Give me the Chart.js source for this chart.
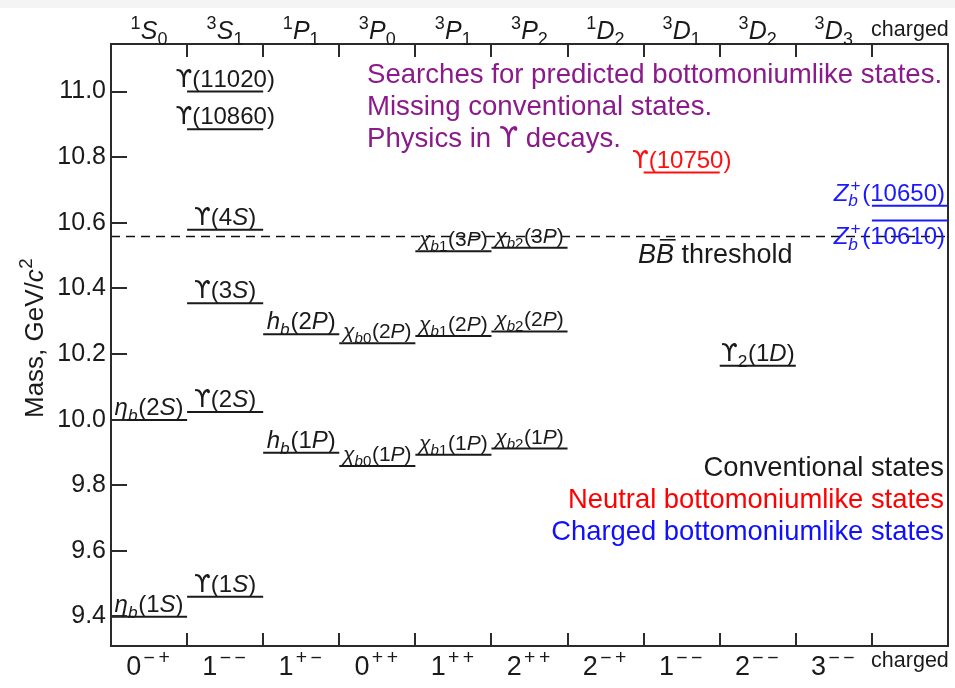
<!DOCTYPE html>
<html><head><meta charset="utf-8">
<script src="https://cdn.jsdelivr.net/npm/chart.js@4"></script>
<style>html,body{margin:0;padding:0;background:#fff;overflow:hidden}canvas{display:block}</style>
</head><body>
<canvas id="c" width="955" height="688"></canvas>
<script>
// ---------------- data ----------------
const topTerms = ['$^{1}S_{0}$','$^{3}S_{1}$','$^{1}P_{1}$','$^{3}P_{0}$','$^{3}P_{1}$','$^{3}P_{2}$','$^{1}D_{2}$','$^{3}D_{1}$','$^{3}D_{2}$','$^{3}D_{3}$','charged'];
const bottomJPC = ['$0^{−+}$','$1^{−−}$','$1^{+−}$','$0^{++}$','$1^{++}$','$2^{++}$','$2^{−+}$','$1^{−−}$','$2^{−−}$','$3^{−−}$','charged'];
const yTickValues = [9.4, 9.6, 9.8, 10.0, 10.2, 10.4, 10.6, 10.8, 11.0];
const yRange = [9.31, 11.145];
const columnCount = 11;

const stateLabels = [
  '$η_{b}(1S)$','$η_{b}(2S)$',
  '$ϒ(1S)$','$ϒ(2S)$','$ϒ(3S)$','$ϒ(4S)$','$ϒ(10860)$','$ϒ(11020)$',
  '$h_{b}(1P)$','$h_{b}(2P)$',
  '$χ_{b0}(1P)$','$χ_{b0}(2P)$',
  '$χ_{b1}(1P)$','$χ_{b1}(2P)$','$χ_{b1}(3P)$',
  '$χ_{b2}(1P)$','$χ_{b2}(2P)$','$χ_{b2}(3P)$',
  '$ϒ(10750)$','$ϒ_{2}(1D)$',
  '$Z_{b}^{+}(10610)$','$Z_{b}^{+}(10650)$'
];
const stateColumn = [0,0, 1,1,1,1,1,1, 2,2, 3,3, 4,4,4, 5,5,5, 7,8, 10,10];
const stateMass = [9.399,9.999, 9.460,10.023,10.355,10.579,10.885,11.000, 9.899,10.260,
                   9.859,10.233, 9.893,10.255,10.513, 9.912,10.269,10.524, 10.753,10.164, 10.607,10.652];
const stateKind = ['conv','conv','conv','conv','conv','conv','conv','conv','conv','conv',
                   'conv','conv','conv','conv','conv','conv','conv','conv','neutral','conv','charged','charged'];
const bbThreshold = 10.558;

const noteLines = ['Searches for predicted bottomoniumlike states.','Missing conventional states.','Physics in ϒ decays.'];
const legendLines = ['Conventional states','Neutral bottomoniumlike states','Charged bottomoniumlike states'];
const legendKinds = ['conv','neutral','charged'];

// ---------------- style ----------------
const FONT = '"Liberation Sans", Arial, sans-serif';
const GREEK_FONT = '"DejaVu Sans", sans-serif';
const kindColor = {conv:'#1a1a1a', neutral:'#ff1010', charged:'#1a1aff'};
const legendColor = {conv:'#1a1a1a', neutral:'#ff0000', charged:'#1010ff'};
const INK = '#1a1a1a';
const labelStyle = i => {
  const s = {size:24, place:'above', align:'center'};
  if (stateLabels[i].includes('χ')) s.size = 21;
  if (i === 20) { s.place = 'below'; s.align = 'right'; }
  if (i === 21) { s.align = 'right'; }
  return s;
};

// ---------------- rich text ----------------
function parseRich(s){
  const items=[]; let i=0, math=false;
  const readGroup=()=>{ if(s[i]==='{'){const j=s.indexOf('}',i);const g=[...s.slice(i+1,j)];i=j+1;return g;} const c=s[i];i++;return [c]; };
  while(i<s.length){
    const c=s[i];
    if(c==='$'){ math=!math; i++; continue; }
    if(c==='_'||c==='^'){
      i++; const g=readGroup(); const key=c==='_'?'sub':'sup';
      const last=items[items.length-1];
      if(last&&last.script&&!last[key]) last[key]=g;
      else items.push({script:true,[key]:g,math});
    } else if(c==='~'){ i++; items.push({ch:s[i],bar:true,math}); i++; }
    else { items.push({ch:c,math}); i++; }
  }
  return items;
}
function fontFor(ch,size,math){
  if(ch==='ϒ') return size+'px '+GREEK_FONT;
  const it = math && /[A-Za-zα-ω]/.test(ch);
  return (it?'italic ':'')+size+'px '+FONT;
}
function pad(ch,size){ return (ch==='+'||ch==='−') ? size*0.18 : 0; }
function adv(ctx,ch,size,math){ ctx.font=fontFor(ch,size,math); return ctx.measureText(ch).width + pad(ch,size); }
function widthOf(ctx,chars,size,math){ let w=0; for(const ch of chars) w+=adv(ctx,ch,size,math); return w; }
function putChars(ctx,chars,x,y,size,math){
  let px=x;
  for(const ch of chars){ ctx.font=fontFor(ch,size,math); ctx.fillText(ch,px+pad(ch,size)/2,y); px+=adv(ctx,ch,size,math); }
}
function drawRich(ctx,s,x,y,size,align,color){
  const items=parseRich(s); const ss=size*0.72;
  let total=0;
  const widths=items.map(it=>{
    let w;
    if(it.script) w=Math.max(it.sub?widthOf(ctx,it.sub,ss,it.math):0, it.sup?widthOf(ctx,it.sup,ss,it.math):0)+size*0.03;
    else w=widthOf(ctx,[it.ch],size,it.math);
    total+=w; return w;
  });
  let cx = align==='center'? x-total/2 : align==='right'? x-total : x;
  ctx.fillStyle=color; ctx.strokeStyle=color; ctx.textAlign='left'; ctx.textBaseline='alphabetic';
  items.forEach((it,k)=>{
    if(it.script){
      if(it.sub) putChars(ctx,it.sub,cx,y+size*0.24,ss,it.math);
      if(it.sup) putChars(ctx,it.sup,cx+size*0.02,y-size*0.42,ss,it.math);
    } else {
      putChars(ctx,[it.ch],cx,y,size,it.math);
      if(it.bar){ ctx.lineWidth=Math.max(1,size*0.06); ctx.beginPath(); ctx.moveTo(cx+size*0.14,y-size*0.86); ctx.lineTo(cx+widths[k]+size*0.06,y-size*0.86); ctx.stroke(); }
    }
    cx+=widths[k];
  });
  return total;
}

// ---------------- datasets ----------------
function levelPoints(kind){
  const pts=[];
  stateMass.forEach((m,i)=>{
    if(stateKind[i]!==kind) return;
    pts.push({x:stateColumn[i],y:m},{x:stateColumn[i]+1,y:m},{x:stateColumn[i]+1,y:null});
  });
  return pts;
}
const datasets = ['conv','neutral','charged'].map(k=>({
  data: levelPoints(k), borderColor: kindColor[k], borderWidth: 2, pointRadius: 0, spanGaps: false, tension: 0
}));
datasets.push({data:[{x:0,y:bbThreshold},{x:columnCount,y:bbThreshold}], borderColor:'#111', borderWidth:1.6, borderDash:[9,6], pointRadius:0});

// ---------------- drawing plugin ----------------
const decor = {
  id:'decor',
  beforeDraw(chart){
    const c=chart.ctx; c.save();
    c.fillStyle='#fff'; c.fillRect(0,0,chart.width,chart.height);
    c.fillStyle='#f4f4f4'; c.fillRect(0,0,chart.width,8);
    c.restore();
  },
  afterDraw(chart){
    const c=chart.ctx, a=chart.chartArea, xs=chart.scales.x, ys=chart.scales.y;
    c.save();
    c.strokeStyle='#2b2b2b'; c.lineWidth=2;
    c.strokeRect(a.left, a.top, a.right-a.left, a.bottom-a.top);
    yTickValues.forEach(v=>{ const py=Math.round(ys.getPixelForValue(v)); c.beginPath(); c.moveTo(a.left,py); c.lineTo(a.left+16,py); c.stroke(); });
    for(let k=1;k<columnCount;k++){
      const px=Math.round(xs.getPixelForValue(k));
      c.beginPath(); c.moveTo(px,a.top); c.lineTo(px,a.top+13); c.stroke();
      c.beginPath(); c.moveTo(px,a.bottom); c.lineTo(px,a.bottom-13); c.stroke();
    }
    for(let k=0;k<columnCount;k++){
      const px=xs.getPixelForValue(k+0.5);
      const isC = topTerms[k]==='charged';
      drawRich(c, topTerms[k], px, isC?36:39, isC?21.5:25, 'center', INK);
      const isB = bottomJPC[k]==='charged';
      drawRich(c, bottomJPC[k], px, isB?667:675, isB?21.5:27, 'center', INK);
    }
    stateLabels.forEach((lab,i)=>{
      const st=labelStyle(i);
      const py=ys.getPixelForValue(stateMass[i]);
      const px = st.align==='center' ? xs.getPixelForValue(stateColumn[i]+0.5) : xs.getPixelForValue(stateColumn[i]+1)-3;
      const by = st.place==='above' ? py-5 : py+24;
      drawRich(c, lab, px, by, st.size, st.align, kindColor[stateKind[i]]);
    });
    drawRich(c, '$B~B$ threshold', 638, 263, 27, 'left', INK);
    noteLines.forEach((t,k)=>drawRich(c, t, 367, 83+k*32, 27.6, 'left', '#8b1a8b'));
    legendLines.forEach((t,k)=>drawRich(c, t, 944, 476+k*32, 27.4, 'right', legendColor[legendKinds[k]]));
    c.translate(43, 338); c.rotate(-Math.PI/2);
    drawRich(c, 'Mass, GeV/$c^{2}$', 0, 0, 26, 'center', INK);
    c.restore();
  }
};

new Chart(document.getElementById('c'), {
  type:'line',
  data:{datasets},
  options:{
    responsive:false, animation:false, devicePixelRatio:1,
    layout:{padding:{top:44,bottom:42,right:7,left:0}},
    plugins:{legend:{display:false}, tooltip:{enabled:false}},
    scales:{
      x:{type:'linear', display:false, min:0, max:columnCount},
      y:{type:'linear', min:yRange[0], max:yRange[1],
         afterFit(s){ s.width=111; },
         afterBuildTicks(s){ s.ticks=yTickValues.map(v=>({value:v})); },
         grid:{display:false, drawTicks:false},
         border:{display:false},
         ticks:{padding:5, color:INK, font:{family:FONT, size:25}, callback:v=>v.toFixed(1)}
      }
    }
  },
  plugins:[decor]
});
</script>
</body></html>
